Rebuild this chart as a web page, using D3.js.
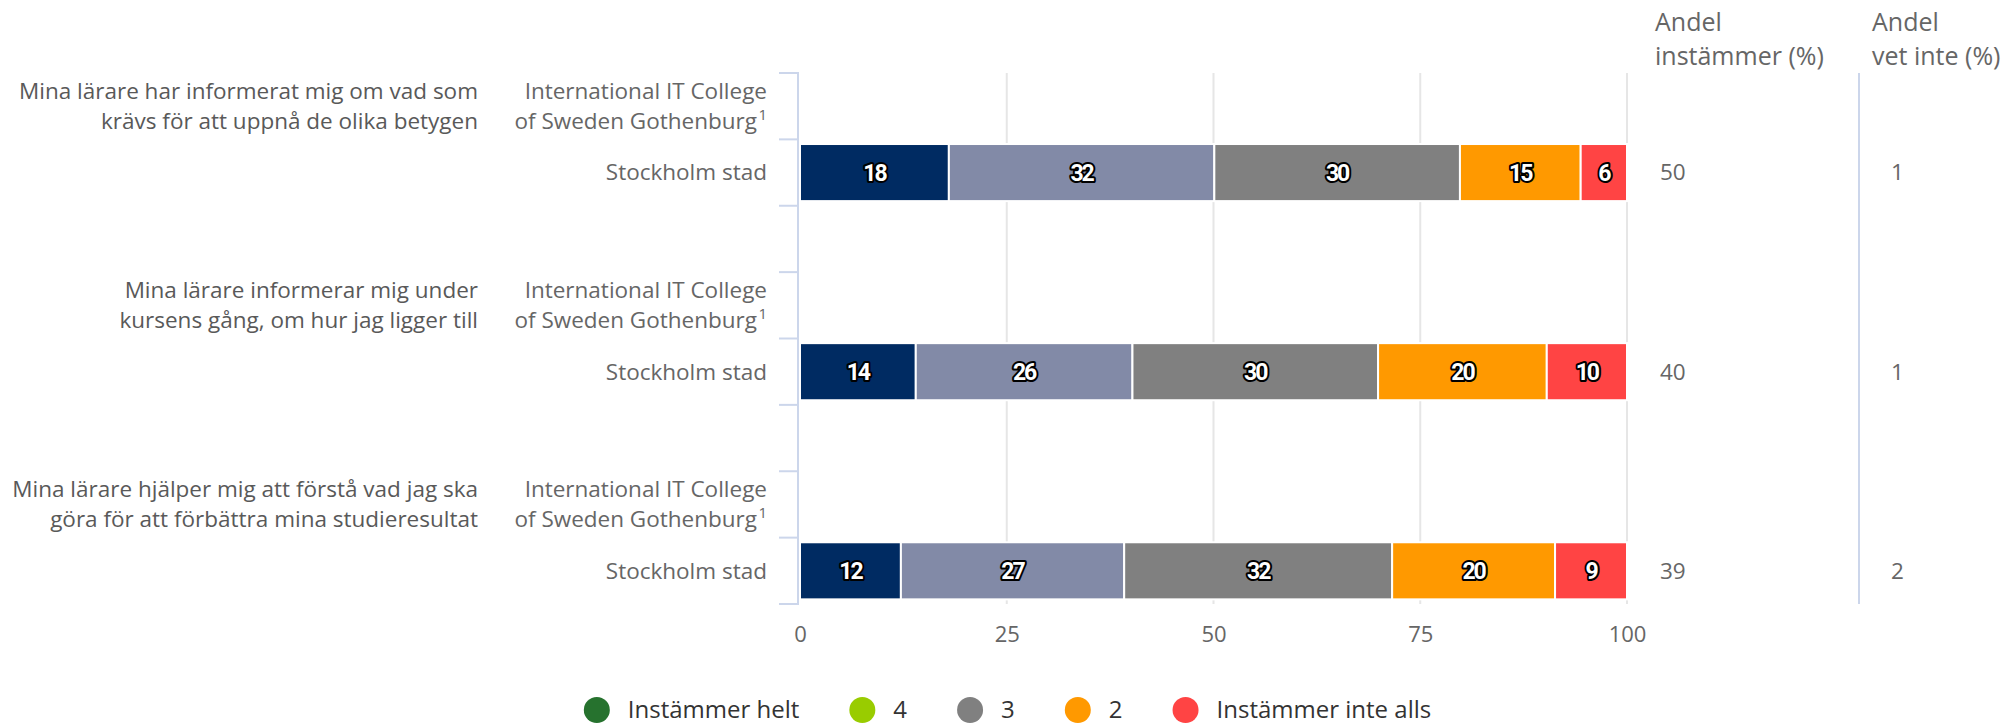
<!DOCTYPE html>
<html>
<head>
<meta charset="utf-8">
<script src="https://cdn.jsdelivr.net/npm/d3@7"></script>
<style>
  body { margin: 0; background: #fff; }
  text { font-family: 'Open Sans', sans-serif; }
</style>
</head>
<body>
<div class="display"></div>
<script>
const WIDTH = 2015;
const HEIGHT = 725;
const PLOT_LEFT = 800;
const PLOT_RIGHT = 1627;
const PLOT_TOP = 73;
const PLOT_BOTTOM = 604;

const QUESTIONS = [
  ['Mina lärare har informerat mig om vad som', 'krävs för att uppnå de olika betygen'],
  ['Mina lärare informerar mig under', 'kursens gång, om hur jag ligger till'],
  ['Mina lärare hjälper mig att förstå vad jag ska', 'göra för att förbättra mina studieresultat']
];
const SCHOOL_LINES = ['International IT College', 'of Sweden Gothenburg'];
const SCHOOL_NOTE = '1';
const CITY = 'Stockholm stad';

const SERIES = ['Instämmer helt', '4', '3', '2', 'Instämmer inte alls'];
const BAR_COLORS = ['#002B62', '#828AA7', '#808080', '#FF9900', '#FF4444'];
const LEGEND_COLORS = ['#26722E', '#99CC00', '#808080', '#FF9900', '#FF4444'];

// Stockholm stad shares (%)
const CITY_VALUES = [
  [18.0, 32.1, 29.7, 14.6, 5.6],
  [14.0, 26.2, 29.7, 20.4, 9.7],
  [12.2, 27.0, 32.4, 19.7, 8.7]
];
const ANDEL_INSTAMMER = [50, 40, 39];
const ANDEL_VET_INTE = [1, 1, 2];
const X_TICKS = [0, 25, 50, 75, 100];

const COL_HEADERS = [
  { x: 1655, lines: ['Andel', 'instämmer (%)'] },
  { x: 1872, lines: ['Andel', 'vet inte (%)'] }
];

const TEXT_COLOR = '#666666';
const AXIS_COLOR = '#ccd6eb';
const GRID_COLOR = '#e6e6e6';
const LABEL_SIZE = '22.5px';

// row keys: school, city, gap between questions
const rows = [];
QUESTIONS.forEach((q, i) => {
  rows.push(`${i}-school`, `${i}-city`);
  if (i < QUESTIONS.length - 1) rows.push(`${i}-gap`);
});

const svg = d3.select('.display')
  .append('svg')
  .attr('width', WIDTH)
  .attr('height', HEIGHT);

const x = d3.scaleLinear()
  .domain([0, 100])
  .range([PLOT_LEFT, PLOT_RIGHT]);

const y = d3.scaleBand()
  .domain(rows)
  .range([PLOT_TOP, PLOT_BOTTOM]);

const barHeight = y.bandwidth() * 0.86;

// grid lines
svg.append('g')
  .selectAll('line')
  .data(X_TICKS.slice(1))
  .enter()
  .append('line')
  .attr('x1', d => x(d))
  .attr('x2', d => x(d))
  .attr('y1', PLOT_TOP)
  .attr('y2', PLOT_BOTTOM)
  .attr('stroke', GRID_COLOR)
  .attr('stroke-width', 2);

// x axis labels
const xAxis = svg.append('g')
  .attr('transform', `translate(0, ${PLOT_BOTTOM + 10})`)
  .call(d3.axisBottom(x)
    .tickValues(X_TICKS)
    .tickSize(0)
    .tickPadding(12));
xAxis.select('.domain').remove();
xAxis.selectAll('text')
  .attr('fill', TEXT_COLOR)
  .style('font-size', '22px')
  .style('font-family', "'Open Sans', sans-serif");

// category axis line and band ticks
svg.append('line')
  .attr('x1', PLOT_LEFT - 2)
  .attr('x2', PLOT_LEFT - 2)
  .attr('y1', PLOT_TOP)
  .attr('y2', PLOT_BOTTOM)
  .attr('stroke', AXIS_COLOR)
  .attr('stroke-width', 2);

const boundaries = rows.map(r => y(r)).concat([PLOT_BOTTOM]);
svg.append('g')
  .selectAll('line')
  .data(boundaries)
  .enter()
  .append('line')
  .attr('x1', PLOT_LEFT - 21)
  .attr('x2', PLOT_LEFT - 1)
  .attr('y1', d => d)
  .attr('y2', d => d)
  .attr('stroke', AXIS_COLOR)
  .attr('stroke-width', 2);

// separator before "vet inte"
svg.append('line')
  .attr('x1', 1859)
  .attr('x2', 1859)
  .attr('y1', PLOT_TOP)
  .attr('y2', PLOT_BOTTOM)
  .attr('stroke', AXIS_COLOR)
  .attr('stroke-width', 2);

// stacked bars
const stackData = CITY_VALUES.map((vals, i) => {
  const row = { row: `${i}-city` };
  SERIES.forEach((s, j) => row[s] = vals[j]);
  return row;
});

const stacked = d3.stack()
  .keys(SERIES)(stackData);

const seriesGroups = svg.append('g')
  .selectAll('g')
  .data(stacked)
  .enter()
  .append('g')
  .attr('fill', (d, i) => BAR_COLORS[i]);

seriesGroups.selectAll('rect')
  .data(d => d)
  .enter()
  .append('rect')
  .attr('x', d => x(d[0]))
  .attr('y', d => y(d.data.row) + (y.bandwidth() - barHeight) / 2)
  .attr('width', d => x(d[1]) - x(d[0]))
  .attr('height', barHeight)
  .attr('stroke', '#ffffff')
  .attr('stroke-width', 2);

seriesGroups.selectAll('text')
  .data(d => d.map(p => ({ p, key: d.key })))
  .enter()
  .append('text')
  .attr('x', d => (x(d.p[0]) + x(d.p[1])) / 2)
  .attr('y', d => y(d.p.data.row) + y.bandwidth() / 2)
  .attr('dy', '0.36em')
  .attr('text-anchor', 'middle')
  .attr('fill', '#ffffff')
  .attr('stroke', '#000000')
  .attr('stroke-width', 4)
  .attr('stroke-linejoin', 'round')
  .attr('paint-order', 'stroke')
  .style('font-family', 'Roboto, sans-serif')
  .style('font-weight', 'bold')
  .style('font-size', '23px')
  .style('letter-spacing', '-2px')
  .text(d => Math.round(d.p.data[d.key]));

// question labels
QUESTIONS.forEach((lines, i) => {
  const cy = y(`${i}-school`) + y.bandwidth() / 2;
  const t = svg.append('text')
    .attr('x', 478)
    .attr('y', cy - 15)
    .attr('text-anchor', 'end')
    .attr('fill', '#595959')
    .style('font-size', LABEL_SIZE);
  lines.forEach((line, k) => {
    t.append('tspan')
      .attr('x', 478)
      .attr('dy', k === 0 ? '0.35em' : 30)
      .text(line);
  });

  // school label, two lines
  SCHOOL_LINES.forEach((line, k) => {
    svg.append('text')
      .attr('x', k === 0 ? 767 : 757)
      .attr('y', cy - 15 + k * 30)
      .attr('dy', '0.35em')
      .attr('text-anchor', 'end')
      .attr('fill', TEXT_COLOR)
      .style('font-size', LABEL_SIZE)
      .text(line);
  });
  // footnote marker
  svg.append('text')
    .attr('x', 767)
    .attr('y', cy + 14)
    .attr('text-anchor', 'end')
    .attr('fill', TEXT_COLOR)
    .style('font-size', '15px')
    .text(SCHOOL_NOTE);

  // city label
  const ry = y(`${i}-city`) + y.bandwidth() / 2;
  svg.append('text')
    .attr('x', 767)
    .attr('y', ry)
    .attr('dy', '0.35em')
    .attr('text-anchor', 'end')
    .attr('fill', TEXT_COLOR)
    .style('font-size', LABEL_SIZE)
    .text(CITY);

  // share columns
  svg.append('text')
    .attr('x', 1660)
    .attr('y', ry)
    .attr('dy', '0.35em')
    .attr('fill', TEXT_COLOR)
    .style('font-size', LABEL_SIZE)
    .text(ANDEL_INSTAMMER[i]);
  svg.append('text')
    .attr('x', 1891)
    .attr('y', ry)
    .attr('dy', '0.35em')
    .attr('fill', TEXT_COLOR)
    .style('font-size', LABEL_SIZE)
    .text(ANDEL_VET_INTE[i]);
});

// column headers
COL_HEADERS.forEach(h => {
  h.lines.forEach((line, k) => {
    svg.append('text')
      .attr('x', h.x)
      .attr('y', 31 + k * 34)
      .attr('fill', TEXT_COLOR)
      .style('font-size', '25px')
      .text(line);
  });
});

// legend
const legend = svg.append('g');
let cursor = 0;
SERIES.forEach((s, i) => {
  const item = legend.append('g')
    .attr('transform', `translate(${cursor}, 0)`);
  item.append('circle')
    .attr('cx', 13)
    .attr('cy', 0)
    .attr('r', 13)
    .attr('fill', LEGEND_COLORS[i]);
  const label = item.append('text')
    .attr('x', 44)
    .attr('y', 0)
    .attr('dy', '0.35em')
    .attr('fill', '#333333')
    .style('font-size', '24px')
    .text(s);
  cursor += 44 + label.node().getComputedTextLength() + 50;
});
const legendWidth = cursor - 50;
legend.attr('transform', `translate(${(WIDTH - legendWidth) / 2}, 710)`);
</script>
</body>
</html>
